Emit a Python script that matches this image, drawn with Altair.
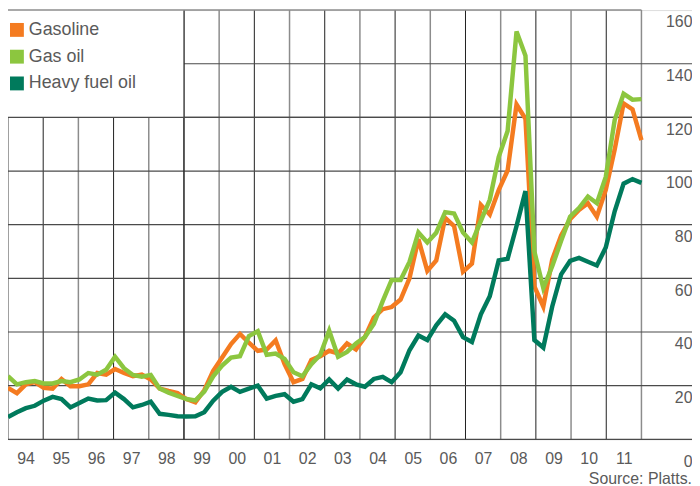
import altair as alt
import pandas as pd

# ---------------- data ----------------
series_names = ["Gasoline", "Gas oil", "Heavy fuel oil"]
series_colors = ["#F47B20", "#8CC63F", "#007A5C"]

# quarterly values 1994 Q1 .. 2011 Q4 (USD per barrel)
gasoline = [19.2, 17.2, 20.5, 21.3, 19.2, 18.9, 22.5, 19.8, 19.8, 20.5, 24.7, 24.1,
            26.2, 24.7, 23.5, 24.1, 22.3, 18.9, 18.0, 17.2, 15.0, 13.8, 18.3, 25.5,
            30.5, 35.5, 39.3, 36.0, 33.0, 33.5, 36.9, 28.0, 21.3, 22.5, 29.6, 31.0,
            33.0, 32.0, 35.7, 33.5, 38.1, 45.4, 48.5, 49.3, 52.1, 60.0, 74.6, 62.8,
            66.7, 82.6, 79.5, 62.5, 65.5, 87.4, 83.8, 92.9, 100.2, 124.8, 119.5, 57.0,
            49.5, 67.0, 76.0, 82.0, 85.5, 88.0, 83.0, 93.0, 108.0, 125.2, 123.0, 111.5]
gas_oil = [23.5, 20.5, 21.3, 21.7, 20.8, 20.8, 21.7, 21.3, 22.3, 24.7, 24.1, 25.9,
           30.8, 26.5, 24.0, 23.3, 24.0, 18.9, 17.4, 16.2, 15.0, 14.5, 17.8, 23.5,
           27.5, 30.5, 31.0, 38.5, 40.3, 31.5, 32.0, 30.0, 25.0, 23.5, 28.0, 31.5,
           40.5, 30.8, 32.6, 35.7, 38.1, 43.0, 51.5, 59.4, 59.4, 66.1, 77.1, 73.4,
           77.0, 84.7, 84.2, 77.1, 73.4, 81.4, 89.3, 105.2, 114.9, 152.0, 143.0, 70.0,
           56.4, 64.5, 74.0, 83.0, 86.2, 90.5, 88.0, 97.8, 119.0, 128.8, 126.6, 126.8]
heavy_fuel_oil = [8.3, 10.1, 11.6, 12.5, 14.4, 15.8, 15.0, 11.9, 13.5, 15.2, 14.5, 14.6,
                  17.4, 15.0, 11.9, 12.8, 14.0, 9.5, 9.1, 8.6, 8.5, 8.6, 10.1, 14.4,
                  17.7, 19.6, 17.7, 18.9, 20.0, 15.2, 16.2, 16.8, 14.0, 15.0, 20.5, 19.0,
                  22.3, 18.9, 22.3, 20.5, 19.6, 22.5, 23.3, 21.3, 25.0, 33.2, 38.7, 37.0,
                  42.5, 46.6, 44.2, 38.1, 36.3, 46.6, 53.3, 66.7, 67.3, 79.5, 92.5, 37.0,
                  34.2, 49.5, 61.5, 66.5, 67.6, 66.2, 64.8, 71.5, 85.0, 95.3, 97.0, 95.6]

year_bounds = list(range(1994, 2013))          # vertical grid lines
year_mids = [y + 0.5 for y in range(1994, 2012)]  # x labels 94..11
y_ticks = [0, 20, 40, 60, 80, 100, 120, 140, 160]
source_text = "Source: Platts."

# ---------------- layout ----------------
W, H = 690, 433
YEAR_PX = 35.5
X0 = 1994
X1 = 1994 + W / YEAR_PX
FONT = "Liberation Sans"
TXT = "#5a5a5a"

n = len(gasoline)
t = [1994 + i * 18 / (n - 1) for i in range(n)]
rows = []
for name, vals in zip(series_names, [gasoline, gas_oil, heavy_fuel_oil]):
    for ti, v in zip(t, vals):
        rows.append({"series": name, "t": ti, "value": v})
long_df = pd.DataFrame(rows)

vdf = pd.DataFrame({"year": year_bounds})
hdf = pd.DataFrame({"v": y_ticks[:-1]})
top_df = pd.DataFrame({"v": [y_ticks[-1]], "x0": [year_bounds[0]], "x1": [year_bounds[-1]]})
box_df = pd.DataFrame({"x0": [1994], "x1": [1999], "y0": [120], "y1": [160]})

xs = alt.Scale(domain=[X0, X1], nice=False, zero=False)
ys = alt.Scale(domain=[0, 160], nice=False, zero=True)

xaxis = alt.Axis(values=year_mids, labelExpr="substring(toString(floor(datum.value)), 2, 4)",
                 title=None, grid=False, domain=False, ticks=False, tickSize=0,
                 labelPadding=11, labelFontSize=16, labelFont=FONT, labelColor=TXT,
                 labelFlush=False, labelOverlap=False)
yaxis = alt.Axis(orient="right", values=y_ticks, title=None, grid=False, domain=False,
                 ticks=False, tickSize=0, labelPadding=0, labelAlign="right",
                 labelBaseline="alphabetic",
                 labelOffset={"condition": {"test": "datum.value == 0", "value": 27}, "value": 17},
                 labelFontSize=16, labelFont=FONT, labelColor=TXT,
                 labelFlush=False, labelOverlap=False)

X = lambda f: alt.X(f, type="quantitative", scale=xs, axis=xaxis)
Y = lambda f: alt.Y(f, type="quantitative", scale=ys, axis=yaxis)

odd = "datum.year % 2 == 1"
vrules = alt.Chart(vdf).mark_rule().encode(
    x=X("year"),
    color=alt.condition(odd, alt.value("#1e1e1e"), alt.value("#8c8c8c")),
    strokeWidth=alt.condition(odd, alt.value(1), alt.value(1.5)),
)
hrules = alt.Chart(hdf).mark_rule(color="#4a4a4a", strokeWidth=1.2).encode(y=Y("v"))
box = alt.Chart(box_df).mark_rect(color="white").encode(x=X("x0"), x2="x1", y=Y("y0"), y2="y1")
vedge = alt.Chart(vdf).transform_filter("datum.year == 1999").mark_rule(color="#1e1e1e", strokeWidth=1).encode(x=X("year"))
hedge = alt.Chart(hdf).transform_filter("datum.v == 120").mark_rule(color="#4a4a4a", strokeWidth=1.2).encode(y=Y("v"))
top = alt.Chart(top_df).mark_rule(color="#8c8c8c", strokeWidth=1.5).encode(x=X("x0"), x2="x1", y=Y("v"))

color_scale = alt.Scale(domain=series_names, range=series_colors)
lines = alt.Chart(long_df).mark_line(strokeWidth=4.5).encode(
    x=X("t"), y=Y("value"),
    color=alt.Color("series:N", scale=color_scale, legend=alt.Legend(
        title=" ", titleFontSize=1, titlePadding=10,
        orient="top-left", offset=0, padding=0, zindex=5,
        symbolType="square", symbolSize=49, symbolStrokeWidth=7, symbolOpacity=1,
        labelFontSize=18, labelFont=FONT, labelColor=TXT, labelOffset=3, rowPadding=-11,
    )),
    detail="series:N",
)

chart = alt.layer(vrules, hrules, box, vedge, hedge, top, lines).properties(
    width=W, height=H,
    padding={"left": 0, "top": 0, "right": 0, "bottom": 45},
    autosize=alt.AutoSizeParams(type="none"),
    title=alt.TitleParams(source_text, orient="bottom", anchor="end", fontSize=16, font=FONT,
                          fontWeight="normal", color=TXT, offset=2, frame="group"),
).configure_view(strokeWidth=0).configure(background="white")

chart.save("out.html", embed_options={"renderer": "svg", "actions": False})
